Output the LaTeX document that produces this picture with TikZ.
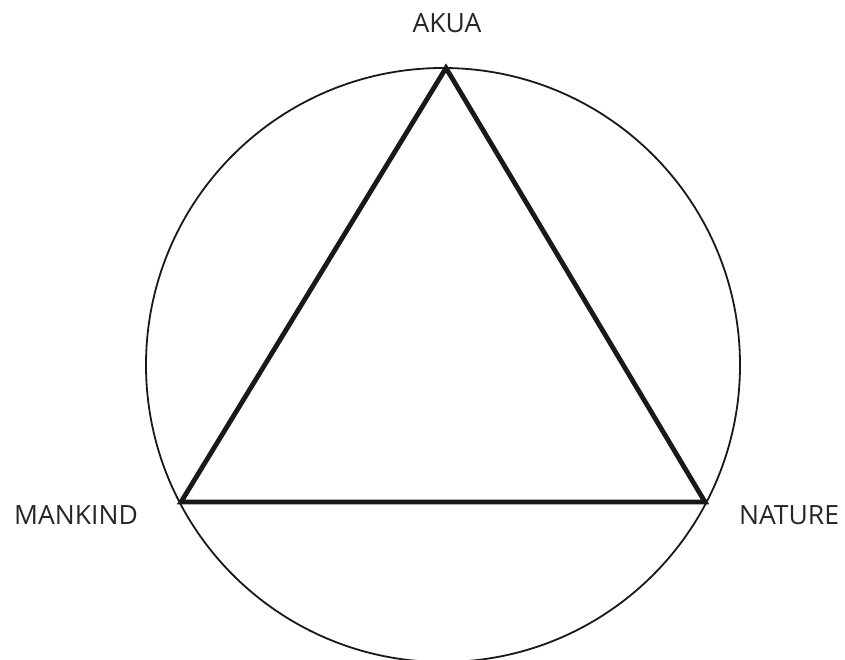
\documentclass[tikz,border=0pt]{standalone}
\usepackage{fontspec}
\setmainfont{Open Sans}
\usetikzlibrary{positioning}
\tikzset{
  lbl/.style={font=\fontsize{26.5}{30}\selectfont, text=black!85, anchor=base, inner sep=0pt},
  ring/.style={draw=black!90, line width=1.8pt},
  tri/.style={draw=black!90, line width=4.8pt, line join=miter},
}
\begin{document}
\begin{tikzpicture}[x=1pt, y=1pt]
  \useasboundingbox (0,0) rectangle (845,659);

  \coordinate (ctr) at (443,294);
  \coordinate (akua) at (446,591);
  \coordinate (mankind) at (181,157);
  \coordinate (nature) at (705,157);

  \draw[ring] (ctr) circle (297);
  \draw[tri] (akua) -- (nature) -- (mankind) -- cycle;

  \node[lbl] (akualbl) at (447,626) {AKUA};
  \node[lbl] (mankindlbl) at (76,135) {MANKIND};
  \node[lbl] (naturelbl) at (789,135) {NATURE};

\end{tikzpicture}
\end{document}
